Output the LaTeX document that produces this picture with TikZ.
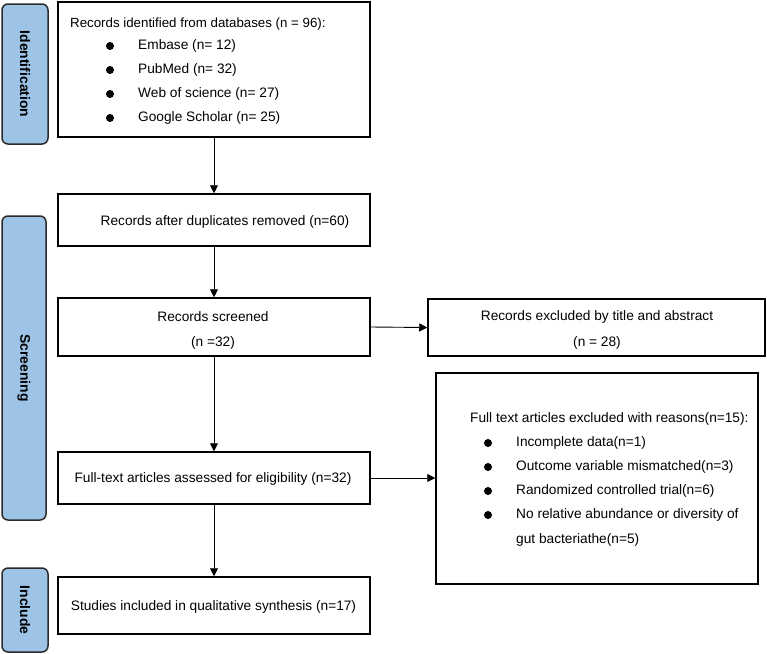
\documentclass[tikz,border=0pt]{standalone}
\usepackage{fontspec}
\setmainfont{Liberation Sans}
\usetikzlibrary{arrows.meta}
\definecolor{sidefill}{HTML}{9DC3E6}
\definecolor{sidedraw}{HTML}{2B2B2B}
\begin{document}
\begin{tikzpicture}[x=1pt,y=-1pt,
  box/.style={draw=black,line width=1.5pt,inner sep=0pt,fill=white},
  side/.style={draw=sidedraw,fill=sidefill,line width=1.5pt,rounded corners=6pt,inner sep=0pt},
  sidetext/.style={rotate=-90,font=\bfseries\fontsize{13.9}{15}\selectfont},
  txt/.style={font=\fontsize{13.7}{15}\selectfont,inner sep=0pt},
  bul/.style={circle,fill=black,inner sep=0pt,minimum size=8pt},
  arr/.style={-{Triangle[length=8pt,width=8pt]},line width=0.9pt}]
\useasboundingbox (0,0) rectangle (767,653);
% side boxes
\node[side,minimum width=46pt,minimum height=140pt] (sid) at (25,74) {};
\node[sidetext] (sidt) at (25,74) {Identification};
\node[side,minimum width=44pt,minimum height=304pt] (sscr) at (24,368) {};
\node[sidetext] (sscrt) at (24,368) {Screening};
\node[side,minimum width=46pt,minimum height=84pt] (sinc) at (25,610) {};
\node[sidetext] (sinct) at (25,610) {Include};
% main boxes
\node[box,minimum width=312pt,minimum height=135pt] (b1) at (214,69.5) {};
\node[txt,anchor=west,font=\fontsize{13.3}{15}\selectfont] (b1t) at (70,24) {Records identified from databases (n = 96):};
\foreach \y/\t/\n in {46/{Embase (n= 12)}/a,70/{PubMed (n= 32)}/b,94/{Web of science (n= 27)}/c,118/{Google Scholar (n= 25)}/d}{
  \node[bul] (b1b\n) at (110,\y) {};
  \node[txt,anchor=west] (b1l\n) at (138,\y) {\t};
}
\node[box,minimum width=312pt,minimum height=52pt] (b2) at (214,220) {};
\node[txt] (b2t) at (225,221.5) {Records after duplicates removed (n=60)};
\node[box,minimum width=312pt,minimum height=58pt] (b3) at (214,327) {};
\node[txt] (b3t) at (213,317) {Records screened};
\node[txt] (b3n) at (213,343) {(n =32)};
\node[box,minimum width=337pt,minimum height=57pt] (b4) at (596.5,327.5) {};
\node[txt] (b4t) at (597,317) {Records excluded by title and abstract};
\node[txt] (b4n) at (597,343) {(n = 28)};
\node[box,minimum width=322pt,minimum height=211pt] (b5) at (597,478.5) {};
\node[txt,anchor=west] (b5t) at (470,419) {Full text articles excluded with reasons(n=15):};
\foreach \y/\t/\n in {443/{Incomplete data(n=1)}/a,467/{Outcome variable mismatched(n=3)}/b,491/{Randomized controlled trial(n=6)}/c,515/{No relative abundance or diversity of}/d}{
  \node[bul] (b5b\n) at (488,\y) {};
  \node[txt,anchor=west] (b5l\n) at (516,\y) {\t};
}
\node[txt,anchor=west] (b5le) at (516,540) {gut bacteriathe(n=5)};
\node[box,minimum width=312pt,minimum height=52pt] (b6) at (214,478) {};
\node[txt] (b6t) at (213,479) {Full-text articles assessed for eligibility (n=32)};
\node[box,minimum width=312pt,minimum height=57pt] (b7) at (214,605.5) {};
\node[txt] (b7t) at (213.5,607) {Studies included in qualitative synthesis (n=17)};
% arrows
\draw[arr] (b1.south) -- (b2.north);
\draw[arr] (b2.south) -- (b3.north);
\draw[arr] (b3.south) -- (b6.north);
\draw[arr] (b6.south) -- (b7.north);
\draw[arr] (b3.east) -- (b4.west);
\draw[arr] (b6.east) -- (b5.west |- b6.east);
\end{tikzpicture}
\end{document}
